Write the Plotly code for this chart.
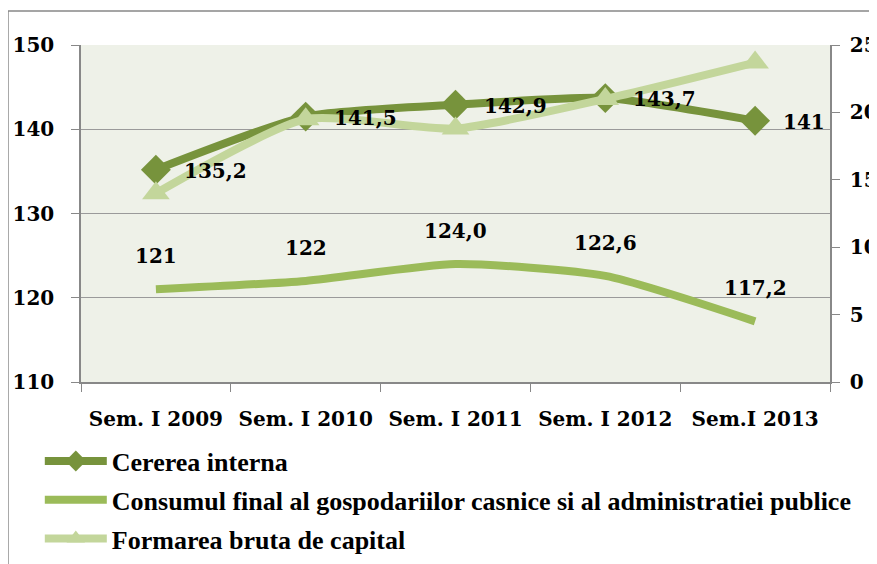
import plotly.graph_objects as go

categories = ["Sem. I 2009", "Sem. I 2010", "Sem. I 2011", "Sem. I 2012", "Sem.I 2013"]
cererea = [135.2, 141.5, 142.9, 143.7, 141.0]
cererea_labels = ["135,2", "141,5", "142,9", "143,7", "141"]
consumul = [121.0, 122.0, 124.0, 122.6, 117.2]
consumul_labels = ["121", "122", "124,0", "122,6", "117,2"]
formarea = [14.0, 19.5, 18.8, 21.0, 23.7]

names = ["Cererea interna",
         "Consumul final al gospodariilor casnice si al administratiei publice",
         "Formarea bruta de capital"]

C1 = "#77933c"
C2 = "#9bbb59"
C3 = "#c3d69b"
SERIF = "DejaVu Serif"

fig = go.Figure()
fig.add_trace(go.Scatter(
    x=categories, y=cererea, name=names[0], mode="lines+markers", legendgroup="a",
    line=dict(color=C1, width=8, shape="spline", smoothing=0.6),
    marker=dict(symbol="diamond", size=23, color=C1),
))
fig.add_trace(go.Scatter(
    x=categories, y=consumul, name=names[1], mode="lines", legendgroup="b",
    line=dict(color=C2, width=8, shape="spline", smoothing=0.6),
))
fig.add_trace(go.Scatter(
    x=categories, y=formarea, name=names[2], mode="lines+markers", yaxis="y2",
    legendgroup="c",
    line=dict(color=C3, width=8, shape="spline", smoothing=0.6),
    marker=dict(symbol="triangle-up", size=24, color=C3),
))

lab_font = dict(family=SERIF, size=20, color="black", weight="bold")
annotations = []
for c, v, t in zip(categories, cererea, cererea_labels):
    annotations.append(dict(x=c, y=v, xref="x", yref="y", text=t, showarrow=False,
                            xanchor="left", xshift=26, yshift=-1, font=lab_font))
for c, v, t in zip(categories, consumul, consumul_labels):
    annotations.append(dict(x=c, y=v, xref="x", yref="y", text=t, showarrow=False,
                            xanchor="center", yshift=33, font=lab_font))

tick_font = dict(family=SERIF, size=20, color="black", weight="bold")

fig.update_layout(
    width=869, height=556,
    margin=dict(l=73, r=47, t=37, b=182, autoexpand=False),
    paper_bgcolor="white",
    plot_bgcolor="#eef1e8",
    font=dict(family=SERIF, size=19, color="black"),
    xaxis=dict(
        type="category", tickson="boundaries", ticks="outside", ticklen=8,
        tickcolor="#888888", showline=True, linecolor="#888888", linewidth=1.5,
        showgrid=False, tickfont=tick_font, ticklabelstandoff=18,
        range=[-0.5, 4.5], automargin=False,
    ),
    yaxis=dict(
        range=[110, 150], dtick=10, ticks="outside", ticklen=8, tickcolor="#888888",
        showline=True, linecolor="#888888", linewidth=1.5,
        showgrid=True, gridcolor="#9a9a9a", gridwidth=1, zeroline=False,
        tickfont=tick_font, automargin=False, ticklabelstandoff=13,
    ),
    yaxis2=dict(
        range=[0, 25], dtick=5, overlaying="y", side="right", ticks="outside",
        ticklen=8, tickcolor="#888888", showline=True, linecolor="#888888",
        linewidth=1.5, showgrid=False, zeroline=False,
        tickfont=tick_font, automargin=False, ticklabelstandoff=6,
    ),
    showlegend=True,
    legend=dict(
        orientation="v", x=-0.055, y=-0.165, xanchor="left", yanchor="top",
        font=dict(family="Liberation Serif", size=26, color="black", weight="bold"),
        itemwidth=62, tracegroupgap=2, bgcolor="rgba(0,0,0,0)",
    ),
    annotations=annotations,
    shapes=[dict(type="rect", xref="paper", yref="paper",
                 x0=-0.0975, x1=1.3, y0=-1.0, y1=1.101,
                 line=dict(color="#888888", width=1.5), fillcolor="rgba(0,0,0,0)",
                 layer="below")],
)

fig.write_html("out.html")
